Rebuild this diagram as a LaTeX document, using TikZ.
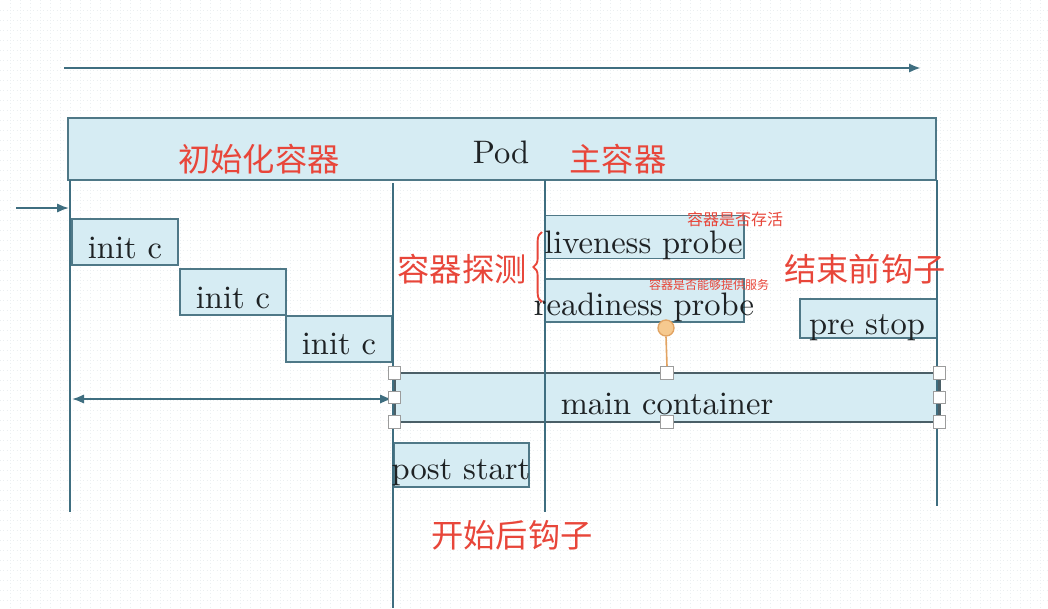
\documentclass[tikz,border=0pt]{standalone}
\usepackage{fontspec}
\newfontfamily\cjk{Noto Sans CJK SC}
\newfontfamily\lmten{lmroman10-regular}[Extension=.otf]
\usetikzlibrary{arrows.meta,decorations.pathreplacing}
\definecolor{boxfill}{HTML}{D6ECF3}
\definecolor{boxline}{HTML}{4F7887}
\definecolor{lineC}{HTML}{3F6E80}
\definecolor{redT}{HTML}{E8463A}
\definecolor{orgF}{HTML}{F6C98F}
\definecolor{orgL}{HTML}{E2A362}
\definecolor{handleL}{HTML}{9C9C9C}
\definecolor{mainL}{HTML}{4B5F67}
\definecolor{gridC}{HTML}{EBEFF1}
\definecolor{txtC}{HTML}{1E2224}
\begin{document}
\begin{tikzpicture}[x=0.75pt,y=-0.75pt,
  box/.style={draw=boxline,fill=boxfill,line width=1.4pt,inner sep=0pt,outer sep=0pt},
  serif/.style={font=\lmten\fontsize{24.4}{28}\selectfont,text=txtC,inner sep=0pt,anchor=base},
  redbig/.style={font=\cjk\fontsize{24.2}{28}\selectfont,text=redT,inner sep=0pt},
  redsmall/.style={font=\cjk\fontsize{12}{14}\selectfont,text=redT,inner sep=0pt},
  redtiny/.style={font=\cjk\fontsize{9}{11}\selectfont,text=redT,inner sep=0pt},
  life/.style={draw=lineC,line width=1.4pt},
  arr/.style={draw=lineC,line width=1.8pt,-{Latex[length=9pt,width=7pt]}},
  handle/.style={draw=handleL,fill=white,line width=0.9pt,minimum size=9.5pt,inner sep=0pt}]
\useasboundingbox (0,0) rectangle (1048,608);
\fill[white] (0,0) rectangle (1048,608);
% faint grid
\foreach \gx in {10,20,...,1040} {\draw[gridC,line width=0.5pt,dotted] (\gx,0) -- (\gx,608);}
\foreach \gy in {10,20,...,600} {\draw[gridC,line width=0.5pt,dotted] (0,\gy) -- (1048,\gy);}

% top timeline arrow
\coordinate (ta1) at (64,68);
\coordinate (ta2) at (921,68);
\draw[arr] (ta1) -- (ta2);

% Pod
\node[box,minimum width={868*0.75pt},minimum height={62*0.75pt}] (pod) at (502,149) {};

% boxes
\node[box,minimum width={106*0.75pt},minimum height={46*0.75pt}] (i1) at (125,242) {};
\node[box,minimum width={106*0.75pt},minimum height={46*0.75pt}] (i2) at (233,292) {};
\node[box,minimum width={106*0.75pt},minimum height={46*0.75pt}] (i3) at (339,339) {};
\node[box,minimum width={199*0.75pt},minimum height={43*0.75pt}] (live) at (644.5,237) {};
\node[box,minimum width={199*0.75pt},minimum height={43*0.75pt}] (ready) at (644.5,300.5) {};
\node[box,minimum width={137*0.75pt},minimum height={39*0.75pt}] (pre) at (868.5,318.5) {};
\node[box,minimum width={135*0.75pt},minimum height={44*0.75pt}] (post) at (461.5,465) {};
\node[box,draw=mainL,line width=2.2pt,minimum width={545*0.75pt},minimum height={49*0.75pt}] (mainc) at (667,397.5) {};

% life lines
\coordinate (l1a) at (70,180);  \coordinate (l1b) at (70,512);
\coordinate (l2a) at (393,183); \coordinate (l2b) at (393,608);
\coordinate (l3a) at (545,180); \coordinate (l3b) at (545,512);
\coordinate (l4a) at (937,180); \coordinate (l4b) at (937,506);
\draw[life] (l1a) -- (l1b);
\draw[life] (l2a) -- (l2b);
\draw[life] (l3a) -- (l3b);
\draw[life] (l4a) -- (l4b);

% small entry arrow
\coordinate (ea1) at (16,208);
\coordinate (ea2) at (69,208);
\draw[arr,line width=1.4pt] (ea1) -- (ea2);

% double arrow
\coordinate (da1) at (72,399);
\coordinate (da2) at (392,399);
\draw[draw=lineC,line width=1.4pt,{Latex[length=9pt,width=7pt]}-{Latex[length=9pt,width=7pt]}] (da1) -- (da2);

% selection handles
\node[handle] (hnw) at (mainc.north west) {};
\node[handle] (hn) at (mainc.north) {};
\node[handle] (hne) at (mainc.north east) {};
\node[handle] (hw) at (mainc.west) {};
\node[handle] (he) at (mainc.east) {};
\node[handle] (hsw) at (mainc.south west) {};
\node[handle] (hs) at (mainc.south) {};
\node[handle] (hse) at (mainc.south east) {};

% orange lollipop
\node[circle,draw=orgL,fill=orgF,line width=1pt,minimum size={16*0.75pt},inner sep=0pt] (lol) at (666,328) {};
\draw[orgL,line width=1.2pt] (lol.south) -- (hn.north);

% texts
\node[serif] (tpod) at (501,163) {Pod};
\node[serif] (ti1) at (125,258) {init c};
\node[serif] (ti2) at (233,308) {init c};
\node[serif] (ti3) at (339,354) {init c};
\node[serif] (tlive) at (643.5,253) {liveness probe};
\node[serif] (tready) at (644,315) {readiness probe};
\node[serif] (tmain) at (667,414) {main container};
\node[serif] (tpost) at (461,479) {post start};
\node[serif] (tpre) at (867,334) {pre stop};

% brace
\draw[redT,line width=1.4pt,decorate,decoration={brace,amplitude=6.5pt}] (542,302) -- (542,232);

% red labels
\node[redbig] (r1) at (259,159) {初始化容器};
\node[redbig] (r2) at (618,159) {主容器};
\node[redbig] (r3) at (462,269) {容器探测};
\node[redbig] (r4) at (865,269) {结束前钩子};
\node[redbig] (r5) at (512,535) {开始后钩子};
\node[redsmall] (r6) at (735,219) {容器是否存活};
\node[redtiny] (r7) at (709,284.5) {容器是否能够提供服务};
\end{tikzpicture}
\end{document}
